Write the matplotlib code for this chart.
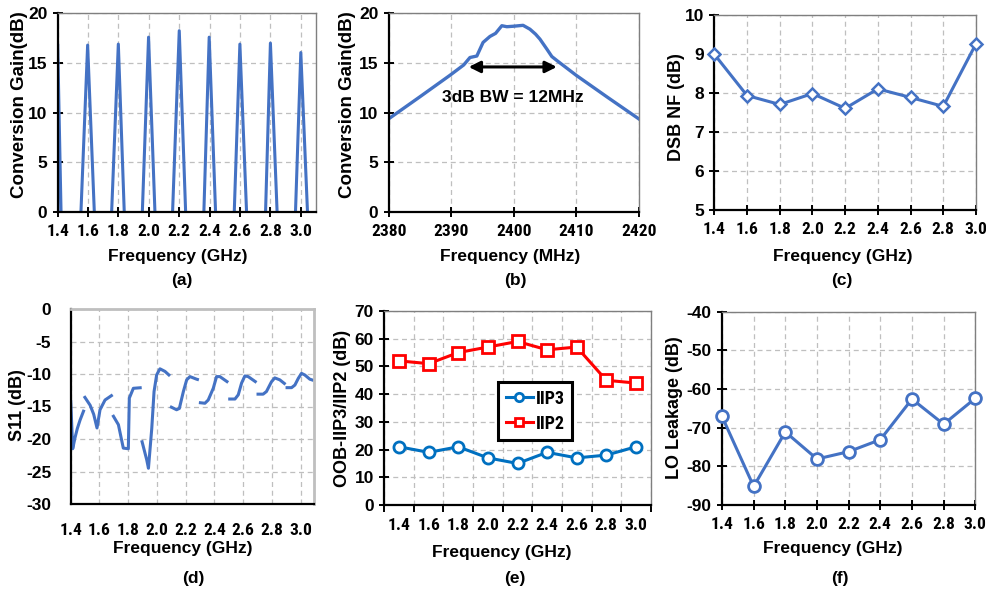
import matplotlib
matplotlib.use('Agg')
import matplotlib.pyplot as plt
from matplotlib import font_manager as fm
import numpy as np

# ---------------- data ----------------
freq_ticks = [1.4, 1.6, 1.8, 2.0, 2.2, 2.4, 2.6, 2.8, 3.0]
freq_labels = ['1.4', '1.6', '1.8', '2.0', '2.2', '2.4', '2.6', '2.8', '3.0']

# (a) conversion gain vs LO frequency (narrow peaks)
cg_peak_freq = [1.400, 1.597, 1.799, 1.998, 2.200, 2.397, 2.599, 2.800, 3.000]
cg_peak_gain = [16.9, 16.8, 16.9, 17.6, 18.25, 17.6, 16.9, 17.0, 16.05]
cg_left_base = [1.400, 1.553, 1.755, 1.957, 2.156, 2.362, 2.562, 2.768, 2.965]
cg_right_base = [1.422, 1.641, 1.838, 2.040, 2.242, 2.439, 2.643, 2.844, 3.044]

# (b) conversion gain around 2.4 GHz
bw_freq = [2380, 2385, 2389.8, 2392, 2393, 2394.1, 2395.1, 2396.2, 2397.1, 2398.1,
           2398.9, 2400, 2401.5, 2402.6, 2403.5, 2404.2, 2405.3, 2406.1, 2407,
           2410, 2415, 2420]
bw_gain = [9.38, 11.6, 13.76, 14.8, 15.55, 15.7, 17.07, 17.67, 17.98, 18.75,
           18.65, 18.7, 18.79, 18.4, 17.9, 17.4, 16.4, 15.65, 15.2,
           13.76, 11.55, 9.38]

# (c) DSB NF
nf_db = [9.0, 7.94, 7.71, 7.99, 7.61, 8.11, 7.89, 7.66, 9.27]

# (d) S11 segments
s11_freq = [
    [1.400, 1.414, 1.430, 1.446, 1.465, 1.493],
    [1.493, 1.535, 1.560, 1.583, 1.604, 1.639, 1.692],
    [1.692, 1.732, 1.766, 1.801, 1.808, 1.836, 1.894],
    [1.894, 1.929, 1.941, 1.964, 1.980, 1.998, 2.021, 2.056, 2.091],
    [2.091, 2.137, 2.156, 2.184, 2.207, 2.230, 2.276, 2.292],
    [2.292, 2.334, 2.357, 2.392, 2.415, 2.438, 2.496],
    [2.496, 2.543, 2.566, 2.589, 2.612, 2.635, 2.693],
    [2.693, 2.739, 2.762, 2.797, 2.820, 2.855, 2.895],
    [2.895, 2.937, 2.960, 2.983, 3.006, 3.029, 3.064, 3.092],
]
s11_db = [
    [-14.0, -21.5, -19.8, -18.4, -17.1, -15.5],
    [-13.4, -14.8, -16.2, -18.3, -15.5, -14.0, -13.2],
    [-16.3, -17.8, -21.4, -21.5, -13.7, -12.2, -12.1],
    [-20.2, -23.2, -24.5, -18.4, -12.7, -10.15, -9.2, -9.6, -10.3],
    [-15.0, -15.5, -15.3, -12.7, -10.9, -10.4, -10.8, -10.9],
    [-14.4, -14.5, -14.0, -12.2, -10.4, -10.4, -11.3],
    [-13.85, -13.85, -13.2, -11.4, -10.3, -10.4, -11.3],
    [-13.1, -13.1, -12.7, -11.2, -10.6, -10.9, -11.6],
    [-12.1, -12.1, -11.7, -10.7, -9.9, -10.15, -10.8, -11.0],
]

# (e) OOB IIP3 / IIP2
iip3 = [21, 19, 21, 17, 15, 19, 17, 18, 21]
iip2 = [52, 51, 55, 57, 59, 56, 57, 45, 44]

# (f) LO leakage
lo_leak = [-67.1, -85.2, -71.1, -78.1, -76.2, -73.1, -62.6, -69.1, -62.4]

# ---------------- style ----------------
names = {f.name for f in fm.fontManager.ttflist}
NARROW = next((n for n in ['Liberation Sans Narrow', 'DejaVu Sans Condensed', 'Roboto Condensed']
               if n in names), 'Liberation Sans')
plt.rcParams['font.family'] = ['Liberation Sans', 'DejaVu Sans']
plt.rcParams['font.weight'] = 'bold'
plt.rcParams['axes.unicode_minus'] = False

BLUE = '#4472C4'
GRID = '#BFBFBF'
W, H = 987, 590
fig = plt.figure(figsize=(W / 100, H / 100), dpi=100)


def box(l, t, r, b):
    return [l / W, 1 - b / H, (r - l) / W, (b - t) / H]


def ftext(x, y, s, size=12.5, rot=0):
    fig.text(x / W, 1 - y / H, s, ha='center', va='center', fontsize=size,
             fontweight='bold', rotation=rot)


def style(ax, top_color='#7F7F7F'):
    for side in ['left', 'bottom']:
        ax.spines[side].set_color('black')
        ax.spines[side].set_linewidth(1.6)
    for side in ['top', 'right']:
        ax.spines[side].set_color(top_color)
        ax.spines[side].set_linewidth(1.0)
    ax.tick_params(axis='both', direction='inout', length=7, width=1.4, color='black')
    ax.tick_params(axis='x', pad=5)
    ax.tick_params(axis='y', pad=4)
    for lab in ax.get_xticklabels():
        lab.set_fontfamily([NARROW, 'Liberation Sans'])
        lab.set_fontsize(12.5)
        lab.set_fontweight('bold')
    for lab in ax.get_yticklabels():
        lab.set_fontsize(12.5)
        lab.set_fontweight('bold')
    ax.set_axisbelow(True)


def dgrid(ax, **kw):
    ax.grid(True, linestyle=(0, (4, 3)), color=GRID, linewidth=0.9, **kw)


# (a)
axa = fig.add_axes(box(57.7, 13.3, 316, 212))
xs, ys = [], []
for lb, pf, pg, rb in zip(cg_left_base, cg_peak_freq, cg_peak_gain, cg_right_base):
    xs += [lb, pf, rb, np.nan]
    ys += [0, pg, 0, np.nan]
axa.plot(xs, ys, color=BLUE, lw=2.2, clip_on=True)
axa.set_xlim(1.4, 3.1)
axa.set_ylim(0, 20)
axa.set_xticks(freq_ticks)
axa.set_xticklabels(freq_labels)
axa.set_yticks([0, 5, 10, 15, 20])
dgrid(axa)
style(axa)
ftext(20, 105, 'Conversion Gain(dB)', 13.5, 90)
ftext(178, 257, 'Frequency (GHz)')
ftext(182, 280, '(a)')

# (b)
axb = fig.add_axes(box(388.7, 13.3, 638.7, 212))
axb.plot(bw_freq, bw_gain, color=BLUE, lw=2.4)
axb.set_xlim(2380, 2420)
axb.set_ylim(0, 20)
axb.set_xticks([2380, 2390, 2400, 2410, 2420])
axb.set_yticks([0, 5, 10, 15, 20])
dgrid(axb)
style(axb)
axb.annotate('', xy=(2392.8, 14.6), xytext=(2406.9, 14.6),
             arrowprops=dict(arrowstyle='<|-|>', color='black', lw=2.2,
                             mutation_scale=17, shrinkA=0, shrinkB=0))
axb.text(2399.9, 11.5, '3dB BW = 12MHz', ha='center', va='center',
         fontsize=12.5, fontweight='bold')
ftext(348, 105, 'Conversion Gain(dB)', 13.5, 90)
ftext(510, 257, 'Frequency (MHz)')
ftext(515, 280, '(b)')

# (c)
axc = fig.add_axes(box(714.3, 15.3, 976, 210))
axc.plot(freq_ticks, nf_db, color=BLUE, lw=2.2, marker='D', ms=6.5,
         mfc='white', mec=BLUE, mew=1.8, clip_on=False, zorder=3)
axc.set_xlim(1.4, 3.0)
axc.set_ylim(5, 10)
axc.set_xticks(freq_ticks)
axc.set_xticklabels(freq_labels)
axc.set_yticks([5, 6, 7, 8, 9, 10])
dgrid(axc)
style(axc)
ftext(677, 107, 'DSB NF (dB)', 13, 90)
ftext(843, 257, 'Frequency (GHz)')
ftext(842, 280, '(c)')

# (d)
axd = fig.add_axes(box(70.7, 309, 314, 504))
for fx, sy in zip(s11_freq, s11_db):
    axd.plot(fx, sy, color=BLUE, lw=2.2, solid_capstyle='butt')
axd.set_xlim(1.4, 3.093)
axd.set_ylim(-30, 0)
axd.set_xticks(freq_ticks)
axd.set_xticklabels(freq_labels)
axd.set_yticks([-30, -25, -20, -15, -10, -5, 0])
dgrid(axd)
style(axd, top_color='#BFBFBF')
axd.tick_params(axis='both', length=0)
axd.tick_params(axis='x', pad=14)
axd.tick_params(axis='y', pad=14)
axd.spines['top'].set_linewidth(2.0)
axd.spines['right'].set_linewidth(2.0)
ftext(18, 405, 'S11 (dB)', 13, 90)
ftext(183, 548, 'Frequency (GHz)')
ftext(193, 578, '(d)')

# (e)
axe = fig.add_axes(box(384.3, 311, 650.7, 505))
pos = np.arange(len(freq_labels))
axe.plot(pos, iip3, color='#0070C0', lw=2.2, marker='o', ms=8, mfc='white',
         mec='#0070C0', mew=2, label='IIP3')
axe.plot(pos, iip2, color='#FF0000', lw=2.2, marker='s', ms=8, mfc='white',
         mec='#FF0000', mew=2, label='IIP2')
axe.set_xlim(-0.5, len(freq_labels) - 0.5)
axe.set_ylim(0, 70)
axe.set_xticks(pos)
axe.set_xticklabels(freq_labels)
axe.set_xticks(np.arange(len(freq_labels) + 1) - 0.5, minor=True)
axe.set_yticks(range(0, 80, 10))
axe.grid(True, which='minor', axis='x', linestyle=(0, (4, 3)), color=GRID, linewidth=0.9)
axe.grid(True, which='major', axis='y', linestyle=(0, (4, 3)), color=GRID, linewidth=0.9)
style(axe)
axe.tick_params(axis='x', which='major', length=0, pad=9)
axe.tick_params(axis='x', which='minor', direction='out', length=5, width=1.4)
leg = axe.legend(loc='upper left', bbox_to_anchor=(498.3 / W, 1 - 382.3 / H),
                 bbox_transform=fig.transFigure, borderaxespad=0, fancybox=False,
                 edgecolor='black', framealpha=1, handlelength=1.5, markerscale=0.75,
                 borderpad=0.4, labelspacing=0.4, handletextpad=0.2,
                 prop={'family': [NARROW, 'Liberation Sans'], 'weight': 'bold', 'size': 13})
leg.get_frame().set_linewidth(2.2)
ftext(343, 408, 'OOB-IIP3/IIP2 (dB)', 13, 90)
ftext(502, 552, 'Frequency (GHz)')
ftext(515, 578, '(e)')

# (f)
axf = fig.add_axes(box(722, 311.7, 975.3, 505))
axf.plot(freq_ticks, lo_leak, color=BLUE, lw=2.2, marker='o', ms=8.5,
         mfc='white', mec=BLUE, mew=2, clip_on=False, zorder=3)
axf.set_xlim(1.4, 3.0)
axf.set_ylim(-90, -40)
axf.set_xticks(freq_ticks)
axf.set_xticklabels(freq_labels)
axf.set_yticks(range(-90, -30, 10))
dgrid(axf)
style(axf)
ftext(675, 408, 'LO Leakage (dB)', 13, 90)
ftext(833, 548, 'Frequency (GHz)')
ftext(840, 578, '(f)')

fig.savefig('out.png', dpi=100)
